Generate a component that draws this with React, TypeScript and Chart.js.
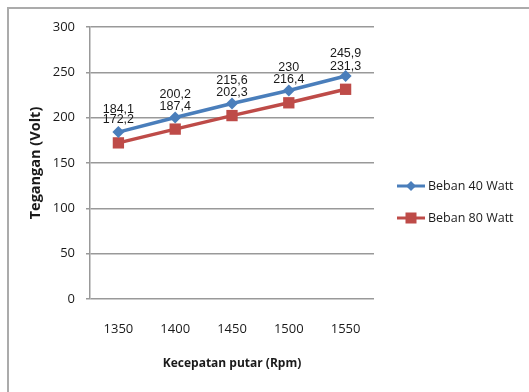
import React, { useEffect, useRef } from "react";
import { Chart, registerables } from "chart.js";

Chart.register(...registerables);

// Rotor speed (Rpm) and measured voltage (Volt) for each load
const categories = ["1350", "1400", "1450", "1500", "1550"];
const beban40 = [184.1, 200.2, 215.6, 230, 245.9];
const beban80 = [172.2, 187.4, 202.3, 216.4, 231.3];
const seriesNames = ["Beban 40 Watt", "Beban 80 Watt"];
const yTicks = [0, 50, 100, 150, 200, 250, 300];

const BLUE = "#4A7EBB";
const RED = "#BE4B48";
const TICK_FONT = "'Open Sans', 'Noto Sans', sans-serif";

const fmt = (v: number) => String(v).replace(".", ",");

// Value labels above every point
const valueLabels = {
  id: "valueLabels",
  afterDatasetsDraw(chart: any) {
    const ctx = chart.ctx;
    ctx.save();
    ctx.font = "12.5px 'Liberation Sans', Arial, sans-serif";
    ctx.fillStyle = "#1a1a1a";
    ctx.textAlign = "center";
    ctx.textBaseline = "middle";
    chart.data.datasets.forEach((ds: any, i: number) => {
      const meta = chart.getDatasetMeta(i);
      meta.data.forEach((pt: any, j: number) => {
        ctx.fillText(fmt(ds.data[j]), pt.x, pt.y - 23);
      });
    });
    ctx.restore();
  },
};

// Legend on the right: line segment with marker, then the series name
const sideLegend = {
  id: "sideLegend",
  afterDraw(chart: any) {
    const ctx = chart.ctx;
    const area = chart.chartArea;
    const x0 = area.right + 23;
    const rows = [area.top + 159, area.top + 191];
    ctx.save();
    chart.data.datasets.forEach((ds: any, i: number) => {
      const y = rows[i];
      ctx.strokeStyle = ds.borderColor;
      ctx.lineWidth = 3;
      ctx.beginPath();
      ctx.moveTo(x0, y);
      ctx.lineTo(x0 + 28, y);
      ctx.stroke();
      ctx.fillStyle = ds.backgroundColor;
      const cx = x0 + 14;
      if (i === 0) {
        const r = 5;
        ctx.beginPath();
        ctx.moveTo(cx, y - r);
        ctx.lineTo(cx + r, y);
        ctx.lineTo(cx, y + r);
        ctx.lineTo(cx - r, y);
        ctx.closePath();
        ctx.fill();
      } else {
        ctx.fillRect(cx - 5.5, y - 5.5, 11, 11);
      }
      ctx.fillStyle = "#1a1a1a";
      ctx.font = `12.5px ${TICK_FONT}`;
      ctx.textAlign = "left";
      ctx.textBaseline = "middle";
      ctx.fillText(ds.label, x0 + 31, y);
    });
    ctx.restore();
  },
};

export default function App() {
  const ref = useRef<HTMLCanvasElement>(null);

  useEffect(() => {
    const chart = new Chart(ref.current!, {
      type: "line",
      data: {
        labels: categories,
        datasets: [
          {
            label: seriesNames[0],
            data: beban40,
            borderColor: BLUE,
            backgroundColor: BLUE,
            borderWidth: 3.5,
            pointStyle: "rectRot",
            pointRadius: 6,
            pointBorderWidth: 0,
          },
          {
            label: seriesNames[1],
            data: beban80,
            borderColor: RED,
            backgroundColor: RED,
            borderWidth: 3.5,
            pointStyle: "rect",
            pointRadius: 8,
            pointBorderWidth: 0,
          },
        ],
      },
      options: {
        responsive: false,
        animation: false,
        layout: { padding: { top: 27, right: 155, left: 0, bottom: 0 } },
        plugins: { legend: { display: false }, tooltip: { enabled: false } },
        scales: {
          x: {
            offset: true,
            grid: { display: false, drawTicks: false },
            border: { display: false },
            ticks: {
              padding: 22,
              color: "#1a1a1a",
              font: { family: TICK_FONT, size: 13 },
            },
            title: {
              display: true,
              text: "Kecepatan putar (Rpm)",
              color: "#1a1a1a",
              font: { family: TICK_FONT, size: 12, weight: "bold" },
              padding: { top: 0, bottom: 21 },
            },
            afterFit(scale: any) {
              scale.height = 93;
            },
          },
          y: {
            min: 0,
            max: 300,
            afterBuildTicks(scale: any) {
              scale.ticks = yTicks.map((v) => ({ value: v }));
            },
            grid: { color: "#999999", lineWidth: 1.5, tickLength: 4 },
            border: { display: true, color: "#999999", width: 1.5 },
            ticks: {
              padding: 11,
              color: "#1a1a1a",
              font: { family: TICK_FONT, size: 13 },
            },
            title: {
              display: true,
              text: "Tegangan (Volt)",
              color: "#1a1a1a",
              font: { family: TICK_FONT, size: 14.5, weight: "bold" },
              padding: { top: 27, bottom: 0 },
            },
            afterFit(scale: any) {
              scale.width = 90;
            },
          },
        },
      },
      plugins: [valueLabels, sideLegend],
    });
    return () => chart.destroy();
  }, []);

  return (
    <div
      style={{
        position: "absolute",
        left: 0,
        top: 0,
        width: 529,
        height: 392,
        overflow: "hidden",
        background: "#fff",
      }}
    >
      <div
        style={{
          position: "absolute",
          left: 7,
          top: 7,
          width: 600,
          height: 500,
          border: "2px solid #ababab",
        }}
      />
      <canvas
        ref={ref}
        width={529}
        height={392}
        style={{ position: "absolute", left: 0, top: 0 }}
      />
    </div>
  );
}
